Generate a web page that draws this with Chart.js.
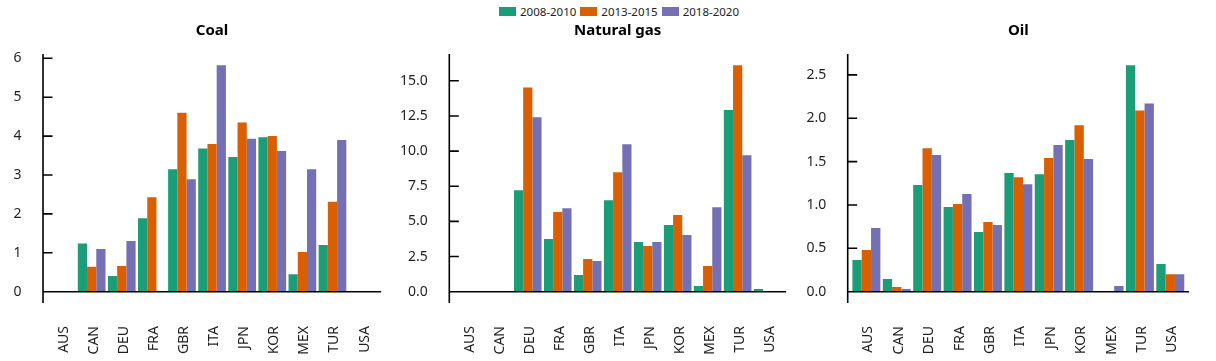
<!DOCTYPE html>
<html>
<head>
<meta charset="utf-8">
<script src="https://cdn.jsdelivr.net/npm/chart.js@4.4.1/dist/chart.umd.min.js"></script>
<style>
    body {
        margin: 0;
        width: 1216px;
        height: 361px;
        background: #fff;
        position: relative;
        overflow: hidden;
        font-family: "Noto Sans", sans-serif;
    }
    canvas {
        position: absolute;
        top: 0;
    }
    #legend {
        position: absolute;
        top: 4px;
        left: 499px;
        display: flex;
        align-items: center;
        font-size: 11.5px;
        color: #222;
    }
    .legend-item {
        display: flex;
        align-items: center;
        margin-right: 4px;
    }
    .legend-box {
        width: 17px;
        height: 8.5px;
        margin-right: 4px;
    }
</style>
</head>
<body>
<div id="legend"></div>
<canvas id="coal" width="395" height="361" style="left:0px"></canvas>
<canvas id="gas" width="400" height="361" style="left:400px"></canvas>
<canvas id="oil" width="411" height="361" style="left:805px"></canvas>
<script>
const countries = ["AUS", "CAN", "DEU", "FRA", "GBR", "ITA", "JPN", "KOR", "MEX", "TUR", "USA"];
const periods = ["2008-2010", "2013-2015", "2018-2020"];
const periodColors = ["#1b9e77", "#d95f02", "#7570b3"];

const coal2008 = [0, 1.24, 0.40, 1.89, 3.15, 3.68, 3.46, 3.97, 0.45, 1.20, 0];
const coal2013 = [0, 0.64, 0.66, 2.43, 4.60, 3.80, 4.35, 4.00, 1.02, 2.31, 0];
const coal2018 = [0, 1.10, 1.30, 0, 2.89, 5.82, 3.93, 3.62, 3.15, 3.90, 0];

const gas2008 = [0, 0.03, 7.22, 3.74, 1.18, 6.51, 3.53, 4.74, 0.40, 12.93, 0.19];
const gas2013 = [0, 0.02, 14.52, 5.66, 2.32, 8.50, 3.25, 5.45, 1.82, 16.10, 0];
const gas2018 = [0, 0.02, 12.41, 5.94, 2.18, 10.49, 3.53, 4.03, 6.01, 9.71, 0];

const oil2008 = [0.365, 0.146, 1.23, 0.976, 0.688, 1.367, 1.355, 1.748, 0, 2.61, 0.32];
const oil2013 = [0.48, 0.054, 1.655, 1.01, 0.803, 1.32, 1.54, 1.92, 0, 2.09, 0.20];
const oil2018 = [0.734, 0.031, 1.575, 1.125, 0.768, 1.24, 1.69, 1.53, 0.066, 2.17, 0.20];

const coalTickLabels = ["0", "1", "2", "3", "4", "5", "6"];
const gasTickLabels = ["0.0", "2.5", "5.0", "7.5", "10.0", "12.5", "15.0"];
const oilTickLabels = ["0.0", "0.5", "1.0", "1.5", "2.0", "2.5"];

const TEXT_COLOR = "#1f1f1f";
const FONT = "'Noto Sans', sans-serif";

// axis line, inward ticks, zero line and panel title
const panelDecor = {
    id: "panelDecor",
    afterDatasetsDraw(chart, args, opts) {
        const { ctx, chartArea, scales } = chart;
        const x0 = chartArea.left - 3.5;
        const zero = scales.y.getPixelForValue(0);

        ctx.save();
        ctx.strokeStyle = "#000";
        ctx.lineWidth = 1.6;
        ctx.beginPath();
        ctx.moveTo(x0, chartArea.top);
        ctx.lineTo(x0, chartArea.bottom);
        ctx.moveTo(x0, zero);
        ctx.lineTo(chartArea.right + 3.5, zero);
        scales.y.ticks.forEach((t) => {
            const y = scales.y.getPixelForValue(t.value);
            ctx.moveTo(x0, y);
            ctx.lineTo(x0 + 9.5, y);
        });
        ctx.stroke();

        ctx.fillStyle = "#000";
        ctx.font = "bold 15px " + FONT;
        ctx.textAlign = "center";
        ctx.textBaseline = "middle";
        ctx.fillText(opts.title, (chartArea.left + chartArea.right) / 2, chartArea.top - 23);
        ctx.restore();
    },
};

const buildLegend = () => {
    const legend = document.getElementById("legend");
    periods.forEach((p, i) => {
        const item = document.createElement("div");
        item.classList.add("legend-item");
        const box = document.createElement("div");
        box.classList.add("legend-box");
        box.style.background = periodColors[i];
        const label = document.createElement("span");
        label.textContent = p;
        item.appendChild(box);
        item.appendChild(label);
        legend.appendChild(item);
    });
};

const createPanel = (id, title, series, tickLabels, yWidth, rightPad) => {
    const all = [].concat(...series);
    const top = Math.max(...all);
    const tickValues = tickLabels.map((t) => parseFloat(t));

    new Chart(document.getElementById(id), {
        type: "bar",
        data: {
            labels: countries,
            datasets: series.map((values, i) => ({
                label: periods[i],
                data: values,
                backgroundColor: periodColors[i],
                borderWidth: 0,
                categoryPercentage: 0.92,
                barPercentage: 1.0,
            })),
        },
        options: {
            responsive: false,
            animation: false,
            devicePixelRatio: 1,
            layout: { padding: { top: 54, right: rightPad, bottom: 0, left: 0 } },
            plugins: {
                legend: { display: false },
                tooltip: { enabled: false },
                panelDecor: { title: title },
            },
            scales: {
                x: {
                    grid: { display: false },
                    border: { display: false },
                    ticks: {
                        color: TEXT_COLOR,
                        font: { family: FONT, size: 14 },
                        minRotation: 90,
                        maxRotation: 90,
                        padding: 15,
                        labelOffset: 2,
                        autoSkip: false,
                    },
                    afterFit: (scale) => {
                        scale.height = 58;
                    },
                },
                y: {
                    min: -0.05 * top,
                    max: 1.05 * top,
                    grid: { display: false },
                    border: { display: false },
                    ticks: {
                        color: TEXT_COLOR,
                        font: { family: FONT, size: 14 },
                        padding: 17,
                        callback: (v) => tickLabels[tickValues.indexOf(v)],
                    },
                    afterBuildTicks: (scale) => {
                        scale.ticks = tickValues.map((v) => ({ value: v }));
                    },
                    afterFit: (scale) => {
                        scale.width = yWidth;
                    },
                },
            },
        },
        plugins: [panelDecor],
    });
};

buildLegend();
createPanel("coal", "Coal", [coal2008, coal2013, coal2018], coalTickLabels, 46.5, 13.5);
createPanel("gas", "Natural gas", [gas2008, gas2013, gas2018], gasTickLabels, 52.8, 12.5);
createPanel("oil", "Oil", [oil2008, oil2013, oil2018], oilTickLabels, 46.2, 30.5);
</script>
</body>
</html>
